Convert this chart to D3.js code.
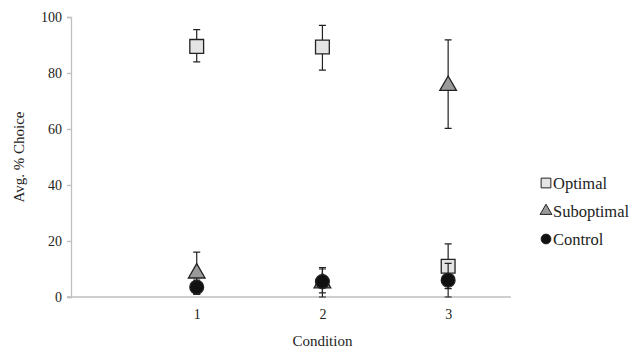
<!DOCTYPE html>
<html>
<head>
<meta charset="utf-8">
<script src="https://cdn.jsdelivr.net/npm/d3@7"></script>
<style>
  body { margin: 0; background: #fff; }
  svg text { font-family: "Liberation Serif", "Times New Roman", "DejaVu Serif", "Noto Serif", serif !important; fill: #222; }
</style>
</head>
<body>
<div class="chart"></div>
<script>
// values
const conditions = [1, 2, 3]
const yTicks = [0, 20, 40, 60, 80, 100]
const seriesNames = ['Optimal', 'Suboptimal', 'Control']
const optimal = [89.5, 89.3, 11]
const optimalLow = [84, 81, 3]
const optimalHigh = [95.5, 97, 19]
const suboptimal = [8.5, 5, 75.5]
const suboptimalLow = [1, 0, 60.2]
const suboptimalHigh = [16, 10, 91.8]
const control = [3.5, 5.5, 6]
const controlLow = [1, 1.5, 0]
const controlHigh = [6, 10.5, 12]

const width = 643
const height = 354
const margin = { top: 17, right: 132, bottom: 57, left: 71 }

const xScale = d3.scaleLinear()
  .domain([0, 3.5])
  .range([margin.left, width - margin.right])
const yScale = d3.scaleLinear()
  .domain([0, 100])
  .range([height - margin.bottom, margin.top])

const svg = d3.select('.chart')
  .append('svg')
  .attr('width', width)
  .attr('height', height)

const yAxis = d3.axisLeft(yScale)
  .tickValues(yTicks)
  .tickSize(4)
  .tickPadding(5)

const xAxis = d3.axisBottom(xScale)
  .tickValues(conditions)
  .tickFormat(d3.format('d'))
  .tickSize(0)
  .tickPadding(12)

svg.append('g')
  .attr('class', 'y axis')
  .attr('transform', `translate(${margin.left},0)`)
  .call(yAxis)

svg.append('g')
  .attr('class', 'x axis')
  .attr('transform', `translate(0,${yScale(0)})`)
  .call(xAxis)

svg.selectAll('.axis').attr('font-family', null)
svg.selectAll('.axis .domain').attr('stroke', '#bfbfbf').attr('stroke-width', 1.3)
svg.selectAll('.axis .tick line').attr('stroke', '#bfbfbf').attr('stroke-width', 1.3)
svg.selectAll('.axis text')
  .attr('font-size', 14)
  .attr('fill', '#222')
// the x axis line also runs out past the y axis like a tick
svg.select('.x.axis .domain').attr('d', `M${margin.left - 4},0H${width - margin.right}`)

svg.append('text')
  .attr('transform', `translate(19,${(yScale(0) + yScale(100)) / 2}) rotate(-90)`)
  .attr('text-anchor', 'middle')
  .attr('dominant-baseline', 'central')
  .attr('font-size', 15)
  .text('Avg. % Choice')

svg.append('text')
  .attr('x', xScale(2))
  .attr('y', 346)
  .attr('text-anchor', 'middle')
  .attr('font-size', 15)
  .text('Condition')

const series = [
  { name: seriesNames[0], values: optimal, low: optimalLow, high: optimalHigh, shape: d3.symbolSquare, fill: '#e4e4e4', size: 190 },
  { name: seriesNames[1], values: suboptimal, low: suboptimalLow, high: suboptimalHigh, shape: d3.symbolTriangle, fill: '#9a9a9a', size: 120 },
  { name: seriesNames[2], values: control, low: controlLow, high: controlHigh, shape: d3.symbolCircle, fill: '#111', size: 150 }
]

series.forEach(s => {
  const g = svg.append('g').attr('class', 'series')
  const rows = conditions.map((c, i) => ({ c, v: s.values[i], lo: s.low[i], hi: s.high[i] }))

  g.selectAll('.err')
    .data(rows)
    .enter()
    .append('path')
    .attr('class', 'err')
    .attr('fill', 'none')
    .attr('stroke', '#222')
    .attr('stroke-width', 1.2)
    .attr('d', d => {
      const x = xScale(d.c)
      return `M${x},${yScale(d.lo)}V${yScale(d.hi)}` +
        `M${x - 3.5},${yScale(d.lo)}H${x + 3.5}` +
        `M${x - 3.5},${yScale(d.hi)}H${x + 3.5}`
    })

  g.selectAll('.mark')
    .data(rows)
    .enter()
    .append('path')
    .attr('class', 'mark')
    .attr('transform', d => `translate(${xScale(d.c)},${yScale(d.v)})`)
    .attr('d', d3.symbol().type(s.shape).size(s.size))
    .attr('fill', s.fill)
    .attr('stroke', '#222')
    .attr('stroke-width', 1.3)
})

// legend
const legend = svg.append('g')
  .attr('transform', 'translate(546,183)')

series.forEach((s, i) => {
  const row = legend.append('g').attr('transform', `translate(0,${i * 28})`)
  row.append('path')
    .attr('d', d3.symbol().type(s.shape).size(s.size * 0.5))
    .attr('fill', s.fill)
    .attr('stroke', '#222')
    .attr('stroke-width', 1)
  row.append('text')
    .attr('x', 7)
    .attr('dominant-baseline', 'central')
    .attr('font-size', 16.5)
    .text(s.name)
})
</script>
</body>
</html>
